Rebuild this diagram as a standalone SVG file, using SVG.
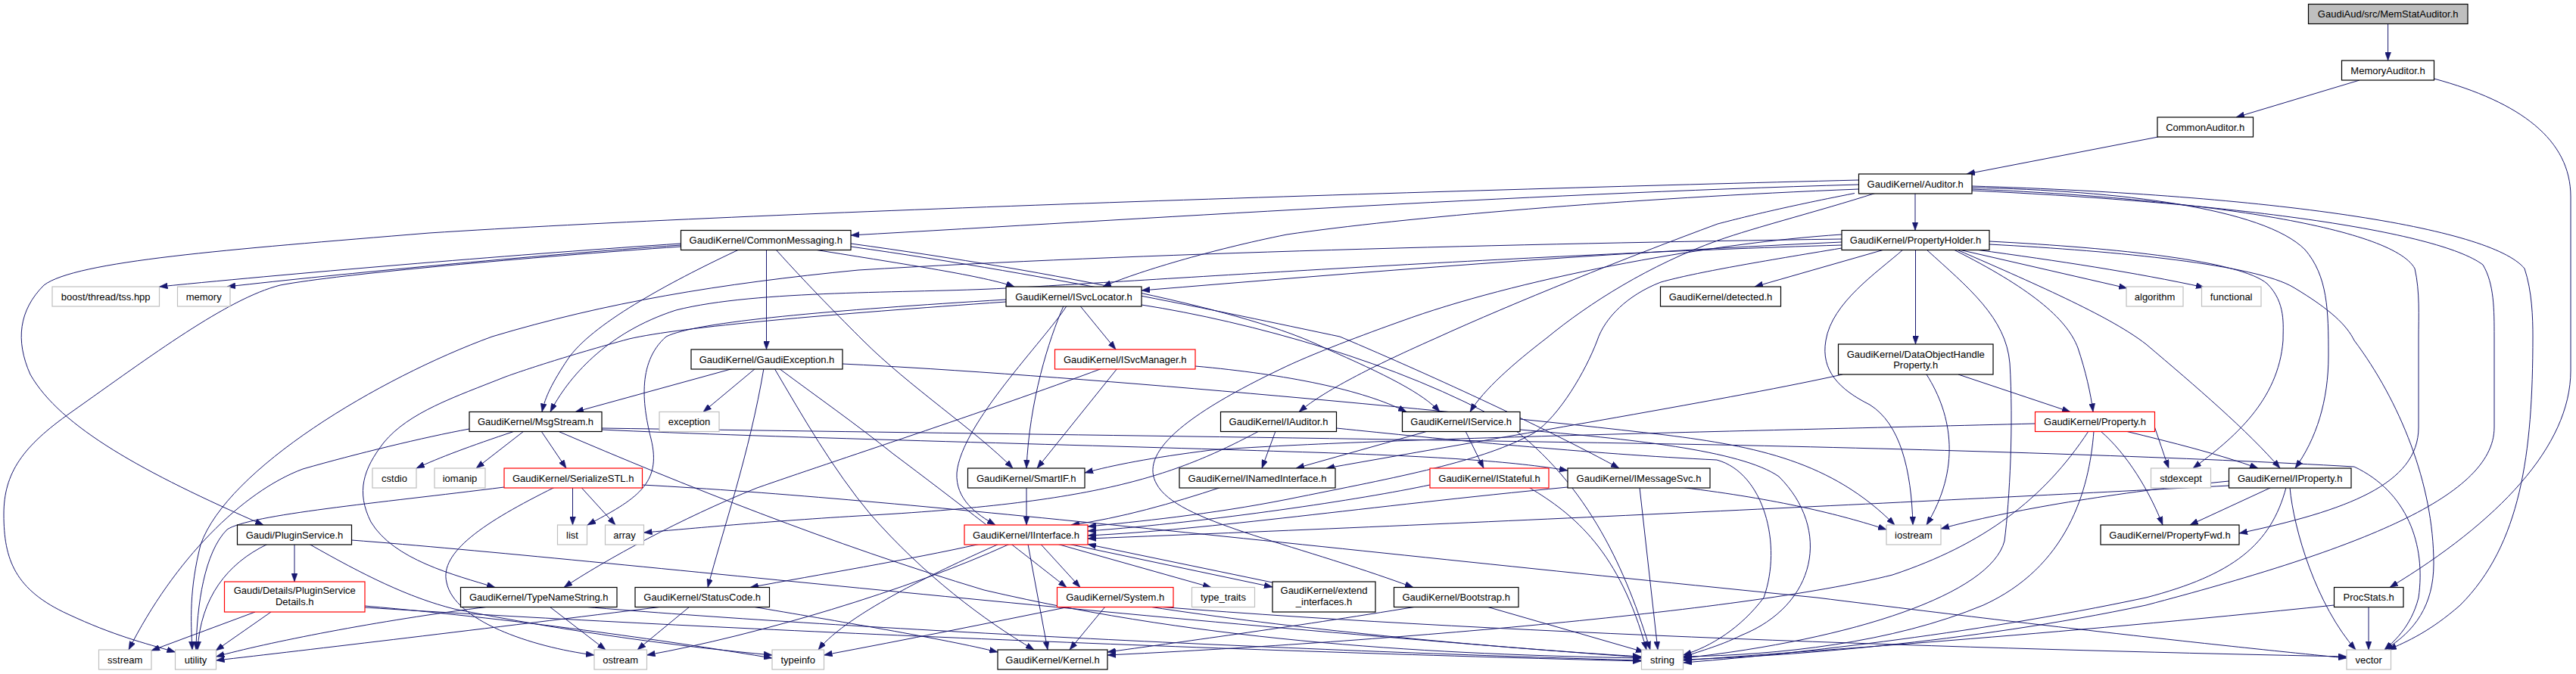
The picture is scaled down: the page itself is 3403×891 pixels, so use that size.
<svg xmlns="http://www.w3.org/2000/svg" width="3403" height="891" viewBox="0 0 3403 891">
<defs>
<marker id="arr" viewBox="0 0 11 8" refX="11" refY="4" markerWidth="11" markerHeight="8" markerUnits="userSpaceOnUse" orient="auto"><path d="M0,0 L11,4 L0,8 z" fill="#191970" stroke="#191970" stroke-width="0.5"/></marker>
<style>
.n rect{fill:#ffffff;stroke:#000000;stroke-width:1.2}
.n.x rect{stroke:#bfbfbf}
.n.r rect{stroke:#ff0000}
.n.root rect{fill:#bfbfbf}
text{font-family:"Liberation Sans",Arial,Helvetica,sans-serif;font-size:13px;text-anchor:middle;fill:#000000}
#edges path{fill:none;stroke:#191970;stroke-width:1;marker-end:url(#arr)}
</style>
</defs>
<rect width="3403" height="891" fill="#ffffff"/>
<g id="edges">
<path d="M3154.6,31.5 L3154.6,80"/>
<path d="M3117,106 L2954,155"/>
<path d="M3215.5,104 C3330,135 3396,185 3396,260 L3396,490 C3396,590 3300,690 3157,776.5"/>
<path d="M2851,181 L2598,230"/>
<path d="M2530,255.5 L2530,304.5"/>
<path d="M2455.5,244 C2000,257 1500,290 1124,311"/>
<path d="M2455.5,238 C1900,252 1000,280 567,308 C300,330 100,345 58,377 C25,410 20,450 40,495 C80,565 190,625 348,694"/>
<path d="M2455.5,250 C2150,262 1850,288 1700,310 C1600,330 1500,360 1457,379"/>
<path d="M2450,255.5 C2350,275 2300,288 2269,296 C2150,340 2000,400 1897,447 C1800,490 1745,520 1716,544.5"/>
<path d="M2477,255.5 C2400,280 2320,300 2269,318 C2180,350 2100,400 2043,447 C2000,480 1960,515 1942,544.5"/>
<path d="M2605,248 C2800,252 2990,275 3045,330 C3075,365 3076,410 3076,470 C3076,530 3060,580 3032,619"/>
<path d="M2605,250 C2900,262 3160,300 3190,355 C3197,385 3195,420 3195,445 L3195,565 C3195,640 3100,675 2958,705"/>
<path d="M2605,252 C2950,268 3220,305 3280,350 C3295,375 3295,410 3295,445 L3295,565 C3295,660 3100,730 2835,800 C2600,850 2350,868 2224,872"/>
<path d="M2605,246 C3000,258 3290,300 3335,355 C3345,385 3346,420 3346,445 C3346,600 3330,720 3250,800 C3210,835 3180,848 3155,859"/>
<path d="M2433,320 C2100,335 1800,360 1508,384"/>
<path d="M2433,324 C2000,337 1500,372 1329,381 C1200,388 1000,383 893,410 C800,440 750,500 727,544.5"/>
<path d="M2433,316 C2000,322 1500,335 1134,357 C950,375 800,400 650,445 C500,500 300,620 265,720 C250,780 252,820 254,859"/>
<path d="M2489,330 L2318,379"/>
<path d="M2530.5,330 L2530.5,455"/>
<path d="M2514,330 C2480,360 2420,400 2412,450 C2405,490 2430,515 2470,535 C2510,560 2525,620 2527,694"/>
<path d="M2545,330 C2600,380 2650,420 2655,480 C2660,560 2655,660 2648,715 C2630,785 2450,845 2224,870"/>
<path d="M2581,330 C2680,380 2730,420 2745,460 C2755,490 2762,520 2765,544.5"/>
<path d="M2585,330 C2700,380 2790,420 2835,455 C2900,510 2970,570 3012,619"/>
<path d="M2588,330 L2810,381"/>
<path d="M2610,330 C2720,345 2820,360 2912,380"/>
<path d="M2628,319 C2800,328 2960,345 2995,375 C3020,400 3016,430 3016,450 C3010,530 2950,580 2897,619"/>
<path d="M2628,323 C2800,332 2980,350 3030,380 C3080,410 3100,430 3110,450 C3170,530 3215,640 3215,745 C3215,800 3190,835 3150,859"/>
<path d="M2433,328 C2330,345 2240,360 2194,373 C2150,390 2120,420 2110,450 C2095,490 2060,550 2027,572 C1960,610 1850,630 1701,660 C1600,680 1500,690 1437,696"/>
<path d="M2433,310 C2250,322 2000,370 1850,425 C1780,450 1730,470 1700,484 C1560,550 1505,600 1528,640 C1555,690 1700,715 1867,776.5"/>
<path d="M899.5,322 C700,335 400,360 210.5,379"/>
<path d="M899.5,324 C700,338 450,362 300,379"/>
<path d="M899.5,326 C700,340 450,362 370,377 C300,395 200,470 94,545 C30,590 5,625 5,680 C5,740 20,780 90,812 C150,840 190,850 231.5,862"/>
<path d="M976,330 C880,375 780,430 750,475 C730,505 720,525 716,544.5"/>
<path d="M1012.5,330 L1012.5,462"/>
<path d="M1025,330 C1070,380 1110,420 1140,450 C1200,510 1290,570 1338,619"/>
<path d="M1076,330 C1200,350 1300,365 1340,379"/>
<path d="M1124,322 C1400,360 1650,410 1750,460 C1830,495 1880,520 1902,544.5"/>
<path d="M1124,326 C1400,365 1650,420 1770,445 C1900,500 2050,570 2139,619"/>
<path d="M1427,404.5 L1474,462"/>
<path d="M1405,404.5 C1385,450 1360,530 1356,619"/>
<path d="M1409,404.5 C1380,450 1270,560 1264,625 C1262,660 1290,680 1315,694"/>
<path d="M1329,399 C1100,415 900,432 831,448 C750,470 690,490 668,498 C600,525 540,545 507,585 C480,620 470,650 490,690 C520,740 600,760 654,776.5"/>
<path d="M1329,396 C1100,410 920,425 880,445 C840,480 850,540 860,580 C875,640 840,660 776,694"/>
<path d="M1508,403 C1650,425 1850,480 1990,560 C2100,640 2150,760 2180,859"/>
<path d="M1476,487 L1370,619"/>
<path d="M1456,487 C1300,545 1100,610 1000,645 C900,685 800,740 745,776.5"/>
<path d="M1579,484 C1700,495 1800,515 1858,544.5"/>
<path d="M1113,481 C1400,495 1900,540 2200,575 C2320,590 2420,610 2503,694"/>
<path d="M969,487 L760,544.5"/>
<path d="M998,487 L929,544.5"/>
<path d="M1009,487 C990,600 955,700 935,776.5"/>
<path d="M1029,487 C1080,525 1130,560 1180,600 C1260,660 1350,730 1409,776.5"/>
<path d="M1023,487 C1060,550 1100,620 1150,680 C1220,760 1300,820 1366,859"/>
<path d="M680,570 C620,590 580,605 550,619"/>
<path d="M692,570 L629,619"/>
<path d="M715,570 L748,619"/>
<path d="M620,567 C560,578 470,600 400,620 C320,650 230,740 170,859"/>
<path d="M795,568 C1000,578 1500,590 1702,597 C1900,603 2000,610 2071,622"/>
<path d="M795,566 C1200,572 1700,578 2269,588 C2600,595 2900,605 3110,617 C3180,650 3205,720 3195,790 C3185,830 3160,850 3150,859"/>
<path d="M737,570 C900,640 1100,720 1300,780 C1600,850 1900,865 2168,870"/>
<path d="M756.5,644.5 L756.5,694"/>
<path d="M768,644.5 L813,694"/>
<path d="M732,644.5 C640,690 580,730 590,770 C600,820 700,855 785,866"/>
<path d="M666,644 C500,665 330,680 300,700 C270,730 260,800 259,859"/>
<path d="M848.5,641 C1200,660 1700,720 2400,790 C2800,840 3000,860 3100,870"/>
<path d="M389,719.5 L389,769"/>
<path d="M353,719.5 C300,745 265,790 261,859"/>
<path d="M409,719.5 C480,760 540,790 600,805 C750,835 900,855 1020,866"/>
<path d="M464.5,714 C800,740 1500,820 2168,869"/>
<path d="M337,809 L200,860"/>
<path d="M358,809 L285,860"/>
<path d="M482,801 C700,820 900,850 1020,870"/>
<path d="M482,803 C900,830 1600,860 2168,874"/>
<path d="M726,802 L800,859"/>
<path d="M646,802 C500,820 350,850 285.5,868"/>
<path d="M770,802 C1100,830 1700,860 2168,873"/>
<path d="M911,802 L842,859"/>
<path d="M875,802 C650,830 400,860 285.5,873"/>
<path d="M994,802 C1100,820 1250,845 1318,862"/>
<path d="M1293,719.5 C1200,740 1080,760 991,776.5"/>
<path d="M1318.7,719.5 C1250,750 1120,810 1081,859"/>
<path d="M1333,719.5 C1200,780 1000,840 854.5,866"/>
<path d="M1358,719.5 L1384,859"/>
<path d="M1375,719.5 L1427,776.5"/>
<path d="M1398,719.5 L1600,776.5"/>
<path d="M1413,719.5 L1681,776"/>
<path d="M1681,770 L1437,719.5"/>
<path d="M1460,802 L1413,859"/>
<path d="M1413,802 C1300,825 1200,845 1088.5,866"/>
<path d="M1518,802 C1700,830 1950,855 2168,868"/>
<path d="M1530,802 C2000,840 2700,860 3100,868"/>
<path d="M1871,802 C1700,830 1550,850 1463,862"/>
<path d="M1964,802 L2172,862"/>
<path d="M1889,641 C1800,660 1600,690 1437,702"/>
<path d="M2020,644.5 C2080,680 2140,730 2175,859"/>
<path d="M2071,644 C1800,670 1600,700 1437,708"/>
<path d="M2166,644.5 L2190,859"/>
<path d="M2223,644.5 C2350,660 2430,680 2492,700"/>
<path d="M1685,570 L1667,619"/>
<path d="M1663,570 C1550,630 1450,665 1134,682 C1000,690 900,700 850.5,704"/>
<path d="M1765.5,566 C1900,580 2100,600 2268,608 C2330,625 2355,720 2330,790 C2300,830 2260,855 2223.5,866"/>
<path d="M1886,570 L1712,619"/>
<path d="M1936,570 L1960,619"/>
<path d="M2008,568 C2150,580 2300,595 2350,630 C2420,700 2400,800 2300,840 C2270,855 2240,862 2223.5,869"/>
<path d="M1612,644.5 C1550,665 1480,685 1415,694"/>
<path d="M1356,644.5 L1356,694"/>
<path d="M2808,570 C2870,585 2930,600 2983,619"/>
<path d="M2775,570 C2810,600 2840,650 2857,694"/>
<path d="M2846.5,565 C2855,590 2860,605 2865,619"/>
<path d="M2766,570 C2760,650 2730,750 2620,800 C2500,850 2350,866 2224,868"/>
<path d="M2759,570 C2700,660 2620,720 2500,760 C2300,810 1800,850 1463,866"/>
<path d="M2688.5,560 C2300,570 1800,580 1600,595 C1520,605 1470,615 1433,625"/>
<path d="M2944.5,642 C2600,660 2000,690 1437,712"/>
<path d="M2944.5,636 C2800,650 2650,675 2564,699"/>
<path d="M3000,644.5 L2893,694"/>
<path d="M3020,644.5 C3000,720 2950,760 2835,790 C2600,840 2350,866 2224,876"/>
<path d="M3025,644.5 C3030,700 3060,800 3112,859"/>
<path d="M3129,802 L3129,859"/>
<path d="M3083.5,800 C2700,840 2400,860 2224,873"/>
<path d="M2545,495 C2580,550 2590,620 2545,694"/>
<path d="M2587,495 L2735,544.5"/>
<path d="M2434,495 C2300,525 2000,575 1752,619"/>
</g>
<g id="node-root" class="n root"><rect x="3049.5" y="5.5" width="210.5" height="26"/><text x="3154.7" y="23">GaudiAud/src/MemStatAuditor.h</text></g>
<g id="node-memoryauditor" class="n"><rect x="3093.5" y="80" width="122" height="26"/><text x="3154.5" y="97.5">MemoryAuditor.h</text></g>
<g id="node-commonauditor" class="n"><rect x="2850" y="155" width="126.5" height="26"/><text x="2913.2" y="172.5">CommonAuditor.h</text></g>
<g id="node-auditor" class="n"><rect x="2455.5" y="230" width="149.5" height="26"/><text x="2530.2" y="247.5">GaudiKernel/Auditor.h</text></g>
<g id="node-propertyholder" class="n"><rect x="2433" y="304.5" width="195" height="26"/><text x="2530.5" y="322">GaudiKernel/PropertyHolder.h</text></g>
<g id="node-commonmessaging" class="n"><rect x="899.5" y="304.5" width="224.5" height="26"/><text x="1011.7" y="322">GaudiKernel/CommonMessaging.h</text></g>
<g id="node-boost" class="n x"><rect x="69" y="379" width="141.5" height="26"/><text x="139.7" y="396.5">boost/thread/tss.hpp</text></g>
<g id="node-memory" class="n x"><rect x="234.5" y="379" width="69.5" height="26"/><text x="269.2" y="396.5">memory</text></g>
<g id="node-isvclocator" class="n"><rect x="1329" y="379" width="179" height="26"/><text x="1418.5" y="396.5">GaudiKernel/ISvcLocator.h</text></g>
<g id="node-detected" class="n"><rect x="2193.5" y="379" width="159" height="26"/><text x="2273" y="396.5">GaudiKernel/detected.h</text></g>
<g id="node-algorithm" class="n x"><rect x="2809" y="379" width="75" height="26"/><text x="2846.5" y="396.5">algorithm</text></g>
<g id="node-functional" class="n x"><rect x="2908.5" y="379" width="78.5" height="26"/><text x="2947.7" y="396.5">functional</text></g>
<g id="node-gaudiexception" class="n"><rect x="913" y="462" width="200" height="26"/><text x="1013" y="479.5">GaudiKernel/GaudiException.h</text></g>
<g id="node-isvcmanager" class="n r"><rect x="1393.5" y="462" width="185.5" height="26"/><text x="1486.2" y="479.5">GaudiKernel/ISvcManager.h</text></g>
<g id="node-dataobjecthandleproperty" class="n"><rect x="2428.5" y="455" width="204.5" height="40"/><text x="2530.7" y="472.5">GaudiKernel/DataObjectHandle</text><text x="2530.7" y="486.5">Property.h</text></g>
<g id="node-msgstream" class="n"><rect x="620" y="544.5" width="175" height="26"/><text x="707.5" y="562">GaudiKernel/MsgStream.h</text></g>
<g id="node-exception" class="n x"><rect x="871" y="544.5" width="79" height="26"/><text x="910.5" y="562">exception</text></g>
<g id="node-iauditor" class="n"><rect x="1612.5" y="544.5" width="153" height="26"/><text x="1689" y="562">GaudiKernel/IAuditor.h</text></g>
<g id="node-iservice" class="n"><rect x="1852.5" y="544.5" width="155.5" height="26"/><text x="1930.2" y="562">GaudiKernel/IService.h</text></g>
<g id="node-property" class="n r"><rect x="2688.5" y="544.5" width="158" height="26"/><text x="2767.5" y="562">GaudiKernel/Property.h</text></g>
<g id="node-cstdio" class="n x"><rect x="492" y="619" width="58" height="26"/><text x="521" y="636.5">cstdio</text></g>
<g id="node-iomanip" class="n x"><rect x="574" y="619" width="67" height="26"/><text x="607.5" y="636.5">iomanip</text></g>
<g id="node-serializestl" class="n r"><rect x="666" y="619" width="182.5" height="26"/><text x="757.2" y="636.5">GaudiKernel/SerializeSTL.h</text></g>
<g id="node-smartif" class="n"><rect x="1278.5" y="619" width="154.5" height="26"/><text x="1355.7" y="636.5">GaudiKernel/SmartIF.h</text></g>
<g id="node-inamedinterface" class="n"><rect x="1558" y="619" width="206" height="26"/><text x="1661" y="636.5">GaudiKernel/INamedInterface.h</text></g>
<g id="node-istateful" class="n r"><rect x="1889" y="619" width="157" height="26"/><text x="1967.5" y="636.5">GaudiKernel/IStateful.h</text></g>
<g id="node-imessagesvc" class="n"><rect x="2071" y="619" width="188" height="26"/><text x="2165" y="636.5">GaudiKernel/IMessageSvc.h</text></g>
<g id="node-stdexcept" class="n x"><rect x="2841.5" y="619" width="79" height="26"/><text x="2881" y="636.5">stdexcept</text></g>
<g id="node-iproperty" class="n"><rect x="2944.5" y="619" width="161.5" height="26"/><text x="3025.2" y="636.5">GaudiKernel/IProperty.h</text></g>
<g id="node-pluginservice" class="n"><rect x="313.5" y="694" width="151" height="26"/><text x="389" y="711.5">Gaudi/PluginService.h</text></g>
<g id="node-list" class="n x"><rect x="736.5" y="694" width="39" height="26"/><text x="756" y="711.5">list</text></g>
<g id="node-array" class="n x"><rect x="799.5" y="694" width="51" height="26"/><text x="825" y="711.5">array</text></g>
<g id="node-iinterface" class="n r"><rect x="1274" y="694" width="163" height="26"/><text x="1355.5" y="711.5">GaudiKernel/IInterface.h</text></g>
<g id="node-iostream" class="n x"><rect x="2492" y="694" width="72" height="26"/><text x="2528" y="711.5">iostream</text></g>
<g id="node-propertyfwd" class="n"><rect x="2775" y="694" width="183" height="26"/><text x="2866.5" y="711.5">GaudiKernel/PropertyFwd.h</text></g>
<g id="node-pluginservicedetails" class="n r"><rect x="296.5" y="769" width="185.5" height="40"/><text x="389.2" y="785">Gaudi/Details/PluginService</text><text x="389.2" y="800">Details.h</text></g>
<g id="node-typenamestring" class="n"><rect x="608.5" y="776.5" width="206.5" height="26"/><text x="711.7" y="794">GaudiKernel/TypeNameString.h</text></g>
<g id="node-statuscode" class="n"><rect x="839" y="776.5" width="177.5" height="26"/><text x="927.7" y="794">GaudiKernel/StatusCode.h</text></g>
<g id="node-system" class="n r"><rect x="1396.5" y="776.5" width="153.5" height="26"/><text x="1473.2" y="794">GaudiKernel/System.h</text></g>
<g id="node-type_traits" class="n x"><rect x="1574.5" y="776.5" width="83" height="26"/><text x="1616" y="794">type_traits</text></g>
<g id="node-extend_interfaces" class="n"><rect x="1681" y="769" width="136" height="40"/><text x="1749" y="785">GaudiKernel/extend</text><text x="1749" y="800">_interfaces.h</text></g>
<g id="node-bootstrap" class="n"><rect x="1841.5" y="776.5" width="164.5" height="26"/><text x="1923.7" y="794">GaudiKernel/Bootstrap.h</text></g>
<g id="node-procstats" class="n"><rect x="3083.5" y="776.5" width="91.5" height="26"/><text x="3129.2" y="794">ProcStats.h</text></g>
<g id="node-sstream" class="n x"><rect x="130.5" y="859" width="69.5" height="26"/><text x="165.2" y="876.5">sstream</text></g>
<g id="node-utility" class="n x"><rect x="231.5" y="859" width="54" height="26"/><text x="258.5" y="876.5">utility</text></g>
<g id="node-ostream" class="n x"><rect x="785" y="859" width="69.5" height="26"/><text x="819.7" y="876.5">ostream</text></g>
<g id="node-typeinfo" class="n x"><rect x="1020" y="859" width="68.5" height="26"/><text x="1054.2" y="876.5">typeinfo</text></g>
<g id="node-kernel" class="n"><rect x="1318" y="859" width="145" height="26"/><text x="1390.5" y="876.5">GaudiKernel/Kernel.h</text></g>
<g id="node-string" class="n x"><rect x="2168.5" y="859" width="55" height="26"/><text x="2196" y="876.5">string</text></g>
<g id="node-vector" class="n x"><rect x="3100" y="859" width="58.5" height="26"/><text x="3129.2" y="876.5">vector</text></g>
</svg>
